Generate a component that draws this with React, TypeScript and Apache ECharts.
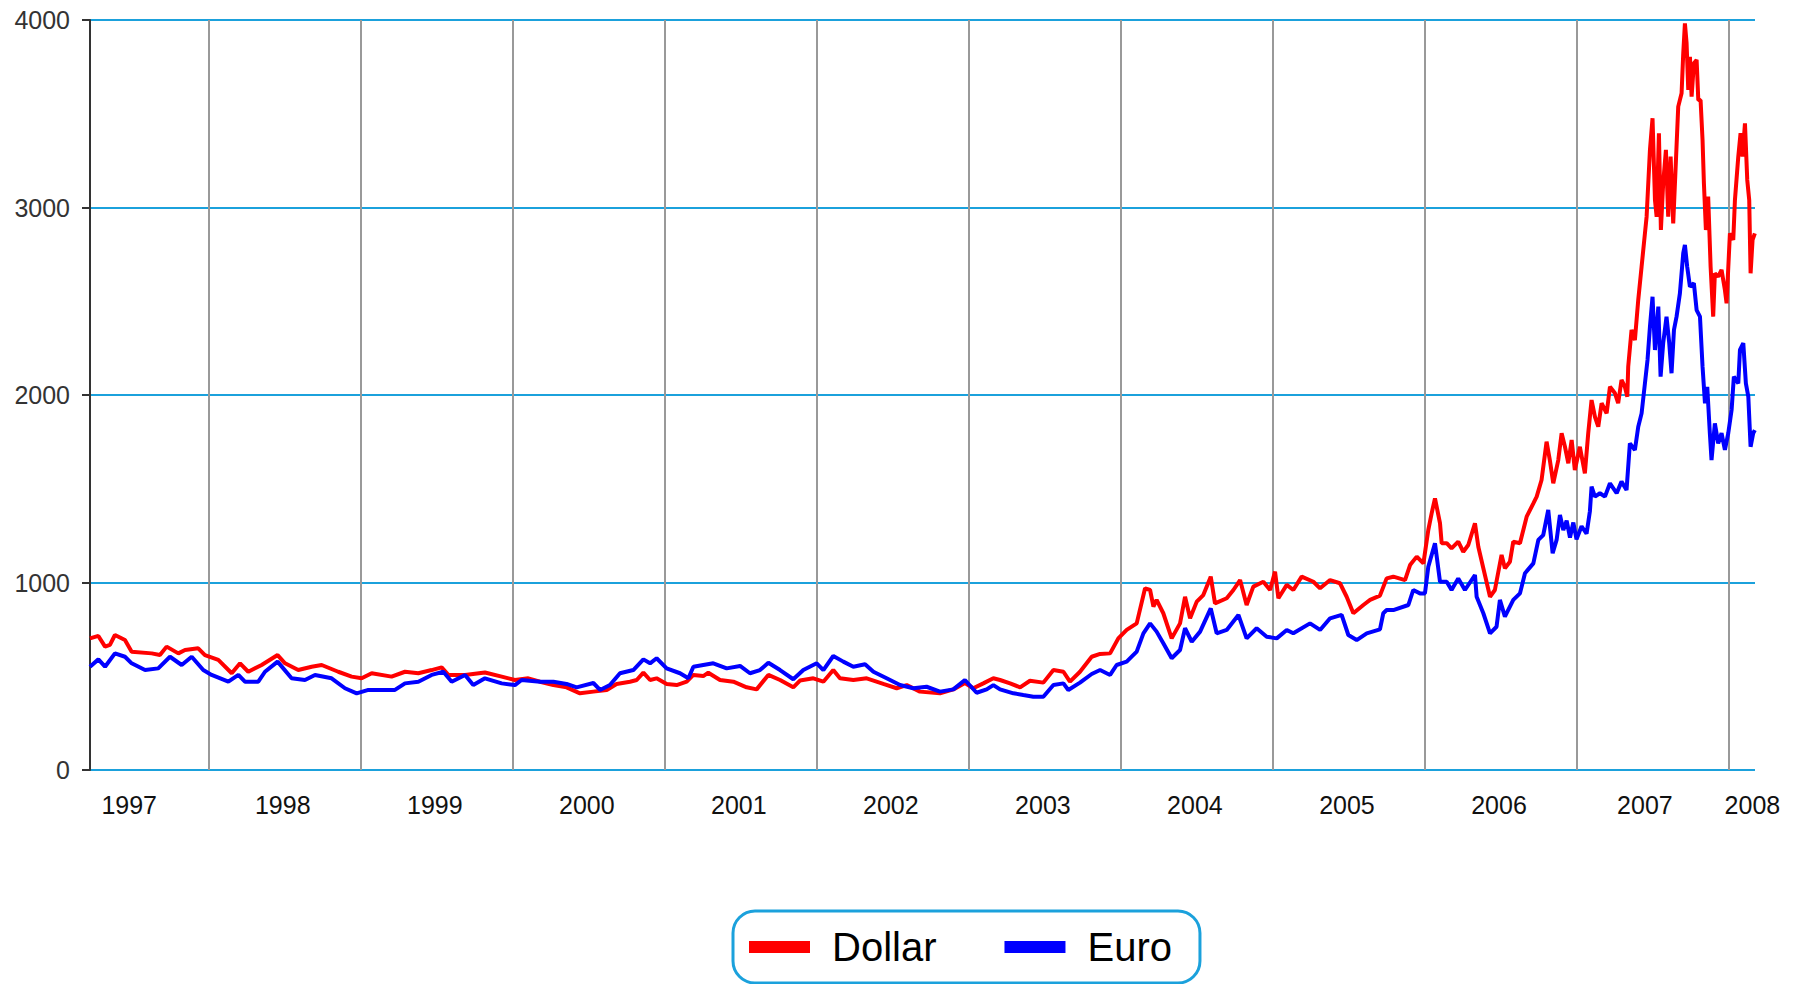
import { useEffect, useRef } from "react";
import * as echarts from "echarts";

const seriesNames = ["Dollar", "Euro"];

const dollarYears = [
  1997.222, 1997.277, 1997.321, 1997.353, 1997.386, 1997.452, 1997.496, 1997.628, 1997.682, 1997.726,
  1997.803, 1997.847, 1997.934, 1997.978, 1998.066, 1998.154, 1998.209, 1998.263, 1998.351, 1998.456,
  1998.505, 1998.592, 1998.68, 1998.746, 1998.855, 1998.943, 1999.009, 1999.075, 1999.206, 1999.294,
  1999.382, 1999.469, 1999.535, 1999.579, 1999.689, 1999.82, 1999.93, 2000.017, 2000.105, 2000.182,
  2000.27, 2000.357, 2000.445, 2000.533, 2000.621, 2000.686, 2000.774, 2000.818, 2000.862, 2000.906,
  2000.949, 2001.015, 2001.081, 2001.147, 2001.191, 2001.256, 2001.289, 2001.366, 2001.454, 2001.541,
  2001.607, 2001.684, 2001.761, 2001.848, 2001.892, 2001.98, 2002.046, 2002.111, 2002.155, 2002.243,
  2002.331, 2002.44, 2002.528, 2002.594, 2002.681, 2002.813, 2002.901, 2002.977, 2003.032, 2003.098,
  2003.164, 2003.208, 2003.274, 2003.34, 2003.405, 2003.493, 2003.559, 2003.625, 2003.668, 2003.734,
  2003.811, 2003.866, 2003.932, 2003.986, 2004.041, 2004.107, 2004.162, 2004.195, 2004.217, 2004.238,
  2004.282, 2004.337, 2004.392, 2004.425, 2004.458, 2004.502, 2004.545, 2004.594, 2004.622, 2004.699,
  2004.743, 2004.787, 2004.83, 2004.874, 2004.94, 2004.984, 2005.017, 2005.039, 2005.094, 2005.137,
  2005.192, 2005.269, 2005.313, 2005.379, 2005.444, 2005.488, 2005.532, 2005.598, 2005.642, 2005.707,
  2005.751, 2005.795, 2005.872, 2005.905, 2005.949, 2005.993, 2006.025, 2006.047, 2006.069, 2006.102,
  2006.113, 2006.146, 2006.178, 2006.222, 2006.255, 2006.288, 2006.332, 2006.354, 2006.387, 2006.431,
  2006.463, 2006.507, 2006.529, 2006.562, 2006.584, 2006.628, 2006.672, 2006.716, 2006.738, 2006.77,
  2006.803, 2006.825, 2006.847, 2006.88, 2006.902, 2006.924, 2006.946, 2006.968, 2006.989, 2007.022,
  2007.055, 2007.077, 2007.099, 2007.121, 2007.143, 2007.165, 2007.198, 2007.22, 2007.253, 2007.274,
  2007.296, 2007.318, 2007.334, 2007.34, 2007.362, 2007.384, 2007.406, 2007.428, 2007.45, 2007.461,
  2007.483, 2007.5, 2007.516, 2007.527, 2007.542, 2007.555, 2007.57, 2007.588, 2007.603, 2007.619,
  2007.636, 2007.654, 2007.669, 2007.691, 2007.702, 2007.713, 2007.724, 2007.735, 2007.746, 2007.757,
  2007.772, 2007.79, 2007.801, 2007.816, 2007.829, 2007.838, 2007.851, 2007.866, 2007.882, 2007.899,
  2007.91, 2007.932, 2007.954, 2007.976, 2007.987, 2008.009, 2008.031, 2008.042, 2008.064, 2008.079,
  2008.092, 2008.108, 2008.123, 2008.136, 2008.145, 2008.158, 2008.173,
];
const dollarValues = [
  702, 715, 658, 667, 720, 693, 631, 622, 613, 658,
  622, 640, 649, 613, 587, 516, 569, 524, 560, 613,
  569, 533, 551, 560, 524, 498, 489, 516, 498, 524,
  516, 533, 547, 507, 507, 520, 498, 480, 489, 471,
  453, 441, 409, 418, 427, 459, 471, 480, 519, 480,
  489, 459, 453, 471, 507, 501, 519, 480, 471, 441,
  430, 507, 480, 441, 477, 489, 471, 533, 489, 480,
  489, 459, 436, 453, 418, 409, 430, 464, 436, 462,
  489, 480, 462, 441, 476, 466, 533, 524, 471, 524,
  604, 619, 622, 702, 747, 782, 969, 960, 871, 907,
  836, 702, 782, 924, 809, 898, 933, 1031, 889, 916,
  960, 1013, 880, 978, 1004, 960, 1058, 916, 987, 960,
  1031, 1004, 969, 1013, 996, 924, 836, 880, 907, 930,
  1022, 1031, 1013, 1093, 1138, 1102, 1280, 1369, 1449, 1316,
  1209, 1210, 1182, 1218, 1164, 1200, 1316, 1191, 1076, 924,
  960, 1147, 1076, 1111, 1218, 1209, 1351, 1422, 1458, 1547,
  1751, 1650, 1529, 1653, 1796, 1724, 1636, 1760, 1600, 1724,
  1582, 1796, 1973, 1884, 1831, 1956, 1902, 2044, 2009, 1956,
  2080, 2044, 1991, 2151, 2347, 2293, 2507, 2684, 2862, 2951,
  3307, 3476, 3040, 2951, 3396, 2880, 3129, 3307, 2951, 3271,
  2915, 3253, 3538, 3609, 3822, 3982, 3876, 3627, 3804, 3591,
  3769, 3787, 3573, 3573, 3360, 3129, 2880, 3058, 2684, 2418,
  2649, 2631, 2667, 2560, 2489, 2862, 2827, 3040, 3271, 3396,
  3271, 3449, 3147, 3040, 2649, 2827, 2862,
];

const euroYears = [
  1997.222, 1997.277, 1997.321, 1997.386, 1997.452, 1997.496, 1997.584, 1997.671, 1997.748, 1997.825,
  1997.891, 1997.967, 1998.022, 1998.132, 1998.198, 1998.241, 1998.329, 1998.373, 1998.456, 1998.548,
  1998.636, 1998.702, 1998.811, 1998.899, 1998.976, 1999.053, 1999.162, 1999.228, 1999.294, 1999.382,
  1999.469, 1999.546, 1999.601, 1999.689, 1999.743, 1999.82, 1999.93, 2000.017, 2000.061, 2000.182,
  2000.27, 2000.357, 2000.423, 2000.533, 2000.577, 2000.642, 2000.708, 2000.796, 2000.862, 2000.906,
  2000.949, 2001.015, 2001.103, 2001.158, 2001.191, 2001.256, 2001.322, 2001.41, 2001.498, 2001.563,
  2001.629, 2001.684, 2001.761, 2001.848, 2001.914, 2002.002, 2002.046, 2002.111, 2002.177, 2002.243,
  2002.32, 2002.375, 2002.462, 2002.55, 2002.638, 2002.725, 2002.813, 2002.901, 2002.977, 2003.054,
  2003.12, 2003.164, 2003.208, 2003.296, 2003.361, 2003.427, 2003.493, 2003.559, 2003.625, 2003.657,
  2003.734, 2003.811, 2003.866, 2003.932, 2003.975, 2004.041, 2004.107, 2004.151, 2004.195, 2004.238,
  2004.282, 2004.337, 2004.392, 2004.425, 2004.469, 2004.524, 2004.594, 2004.633, 2004.699, 2004.776,
  2004.83, 2004.896, 2004.962, 2005.028, 2005.094, 2005.137, 2005.247, 2005.313, 2005.379, 2005.455,
  2005.499, 2005.554, 2005.62, 2005.707, 2005.729, 2005.751, 2005.795, 2005.894, 2005.926, 2005.97,
  2006.003, 2006.025, 2006.069, 2006.102, 2006.146, 2006.178, 2006.222, 2006.266, 2006.332, 2006.343,
  2006.387, 2006.431, 2006.474, 2006.496, 2006.529, 2006.584, 2006.628, 2006.661, 2006.716, 2006.749,
  2006.781, 2006.814, 2006.843, 2006.869, 2006.891, 2006.913, 2006.935, 2006.957, 2006.979, 2007.0,
  2007.033, 2007.066, 2007.088, 2007.099, 2007.121, 2007.154, 2007.187, 2007.22, 2007.264, 2007.296,
  2007.329, 2007.351, 2007.384, 2007.406, 2007.428, 2007.45, 2007.467, 2007.483, 2007.5, 2007.516,
  2007.538, 2007.553, 2007.57, 2007.592, 2007.61, 2007.625, 2007.641, 2007.658, 2007.68, 2007.702,
  2007.713, 2007.728, 2007.746, 2007.772, 2007.79, 2007.812, 2007.829, 2007.845, 2007.86, 2007.877,
  2007.888, 2007.91, 2007.932, 2007.954, 2007.976, 2007.998, 2008.02, 2008.035, 2008.064, 2008.075,
  2008.097, 2008.114, 2008.13, 2008.145, 2008.162, 2008.173,
];
const euroValues = [
  551, 590, 551, 622, 604, 569, 533, 542, 604, 560,
  604, 533, 507, 471, 507, 471, 471, 524, 578, 489,
  480, 507, 489, 436, 409, 427, 427, 427, 462, 471,
  507, 524, 471, 507, 453, 489, 462, 453, 480, 471,
  471, 459, 441, 464, 427, 453, 516, 533, 590, 569,
  596, 542, 516, 489, 551, 560, 569, 542, 555, 516,
  533, 572, 533, 484, 533, 569, 533, 608, 578, 551,
  564, 524, 489, 453, 436, 444, 418, 430, 480, 412,
  430, 453, 430, 409, 400, 391, 391, 453, 462, 427,
  466, 512, 533, 507, 560, 578, 631, 729, 782, 738,
  676, 596, 640, 756, 684, 738, 862, 729, 747, 827,
  702, 756, 711, 702, 747, 729, 782, 747, 809, 827,
  720, 693, 729, 750, 836, 853, 853, 880, 960, 942,
  942, 1084, 1209, 1004, 1004, 960, 1022, 960, 1040, 924,
  836, 729, 764, 907, 818, 907, 942, 1049, 1102, 1227,
  1253, 1387, 1156, 1227, 1360, 1280, 1330, 1240, 1320, 1230,
  1300, 1260, 1380, 1511, 1458, 1476, 1458, 1529, 1476, 1538,
  1493, 1742, 1707, 1831, 1902, 2062, 2187, 2364, 2524, 2240,
  2471, 2098, 2276, 2418, 2276, 2116, 2347, 2418, 2542, 2756,
  2800, 2684, 2578, 2596, 2453, 2418, 2151, 1956, 2044, 1796,
  1653, 1849, 1742, 1796, 1707, 1796, 1920, 2098, 2062, 2240,
  2276, 2062, 1991, 1724, 1796, 1813,
];

const yearBoundaries = [1998, 1999, 2000, 2001, 2002, 2003, 2004, 2005, 2006, 2007, 2008];
const yearLabelValues = [
  1997.48, 1998.49, 1999.49, 2000.49, 2001.49, 2002.49, 2003.49, 2004.49, 2005.49, 2006.49, 2007.45, 2008.157,
];
const yTicks = { min: 0, max: 4000, interval: 1000 };
const xRange = { min: 1997.222, max: 2008.174 };

const FONT = "'Liberation Sans', Arial, Helvetica, sans-serif";
const COLORS = ["#ff0000", "#0000ff"];
const GRID_BLUE = "#1ba1dc";

export default function App() {
  const ref = useRef<HTMLDivElement>(null);

  useEffect(() => {
    if (!ref.current) return;
    const chart = echarts.init(ref.current, null, { renderer: "svg" });
    const dollarData = dollarYears.map((x, i) => [x, dollarValues[i]]);
    const euroData = euroYears.map((x, i) => [x, euroValues[i]]);
    chart.setOption({
      animation: false,
      backgroundColor: "#ffffff",
      textStyle: { fontFamily: FONT },
      grid: { left: 90, right: 43, top: 20, bottom: 214, containLabel: false },
      xAxis: {
        type: "value",
        min: xRange.min,
        max: xRange.max,
        axisLine: { show: false },
        axisTick: { show: false },
        splitLine: { show: false },
        axisLabel: {
          customValues: yearLabelValues,
          formatter: (v: number) => String(Math.floor(v + 1e-9)),
          fontSize: 25,
          color: "#111111",
          fontFamily: FONT,
          margin: 22,
          showMinLabel: true,
          showMaxLabel: true,
          hideOverlap: false,
        },
      },
      yAxis: {
        type: "value",
        min: yTicks.min,
        max: yTicks.max,
        interval: yTicks.interval,
        axisLine: { show: true, lineStyle: { color: "#333333", width: 2 } },
        axisTick: { show: true, length: 8, lineStyle: { color: "#333333", width: 2 } },
        splitLine: { show: true, lineStyle: { color: GRID_BLUE, width: 2 } },
        axisLabel: {
          fontSize: 25,
          color: "#333333",
          fontFamily: FONT,
          margin: 20,
          formatter: (v: number) => String(v),
        },
      },
      legend: {
        data: seriesNames,
        left: 733,
        top: 911,
        orient: "horizontal",
        icon: "rect",
        itemWidth: 61,
        itemHeight: 12,
        itemGap: 68,
        padding: [12, 28, 12, 16],
        borderColor: GRID_BLUE,
        borderWidth: 3,
        borderRadius: 22,
        selectedMode: false,
        textStyle: {
          fontSize: 40,
          color: "#000000",
          fontFamily: FONT,
          lineHeight: 48,
          padding: [0, 0, 0, 17],
        },
      },
      series: [
        {
          name: seriesNames[0],
          type: "line",
          data: dollarData,
          showSymbol: false,
          symbol: "none",
          color: COLORS[0],
          itemStyle: { color: COLORS[0] },
          lineStyle: { color: COLORS[0], width: 4 },
          z: 3,
          markLine: {
            silent: true,
            z: 1,
            symbol: ["none", "none"],
            label: { show: false },
            emphasis: { disabled: true },
            lineStyle: { color: "#999999", width: 2, type: "solid" },
            data: yearBoundaries.map((y) => ({ xAxis: y })),
          },
        },
        {
          name: seriesNames[1],
          type: "line",
          data: euroData,
          showSymbol: false,
          symbol: "none",
          color: COLORS[1],
          itemStyle: { color: COLORS[1] },
          lineStyle: { color: COLORS[1], width: 4 },
          z: 4,
        },
      ],
    });
    return () => chart.dispose();
  }, []);

  return (
    <div
      ref={ref}
      style={{ position: "fixed", left: 0, top: 0, width: 1798, height: 984, background: "#ffffff" }}
    />
  );
}
